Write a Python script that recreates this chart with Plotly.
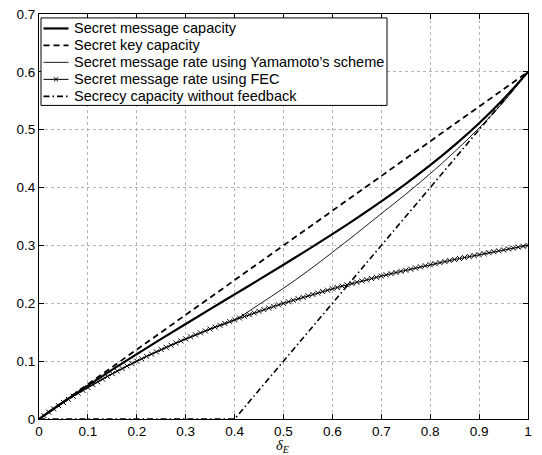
import plotly.graph_objects as go

# delta_E grid (coarse) for the smooth curves
delta_coarse = [0.00, 0.05, 0.10, 0.15, 0.20, 0.25, 0.30, 0.35, 0.40, 0.45, 0.50,
                0.55, 0.60, 0.65, 0.70, 0.75, 0.80, 0.85, 0.90, 0.95, 1.00]

secret_msg_capacity = [0.0, 0.0294, 0.0578, 0.0854, 0.1122, 0.1385, 0.1643, 0.1899, 0.2154,
                       0.2409, 0.2667, 0.2928, 0.3196, 0.3473, 0.3761, 0.4065, 0.4387,
                       0.4734, 0.5112, 0.5531, 0.6000]

key_delta = [0.0, 1.0]
secret_key_capacity = [0.0, 0.6]

yam_delta = [0.00, 0.05, 0.10, 0.15, 0.20, 0.25, 0.30, 0.35, 0.40, 0.45, 0.50,
             0.55, 0.60, 0.65, 0.70, 0.75, 0.80, 0.85, 0.90, 0.95, 1.00]
yamamoto_rate = [0.0, 0.0286, 0.0545, 0.0783, 0.1000, 0.1200, 0.1385, 0.1556, 0.1714,
                 0.1980, 0.2260, 0.2560, 0.2880, 0.3210, 0.3550, 0.3885, 0.4240,
                 0.4620, 0.5030, 0.5480, 0.6000]

fec_delta = [i / 100 for i in range(101)]
fec_rate = [0.0, 0.0059, 0.0118, 0.0175, 0.0231, 0.0286, 0.0340, 0.0393, 0.0444, 0.0495,
            0.0545, 0.0595, 0.0643, 0.0690, 0.0737, 0.0783, 0.0828, 0.0872, 0.0915, 0.0958,
            0.1000, 0.1041, 0.1082, 0.1122, 0.1161, 0.1200, 0.1238, 0.1276, 0.1313, 0.1349,
            0.1385, 0.1420, 0.1455, 0.1489, 0.1522, 0.1556, 0.1588, 0.1620, 0.1652, 0.1684,
            0.1714, 0.1745, 0.1775, 0.1804, 0.1833, 0.1862, 0.1890, 0.1918, 0.1946, 0.1973,
            0.2000, 0.2026, 0.2053, 0.2078, 0.2104, 0.2129, 0.2154, 0.2178, 0.2203, 0.2226,
            0.2250, 0.2273, 0.2296, 0.2319, 0.2341, 0.2364, 0.2386, 0.2407, 0.2429, 0.2450,
            0.2471, 0.2491, 0.2512, 0.2532, 0.2552, 0.2571, 0.2591, 0.2610, 0.2629, 0.2648,
            0.2667, 0.2685, 0.2703, 0.2721, 0.2739, 0.2757, 0.2774, 0.2791, 0.2809, 0.2825,
            0.2842, 0.2859, 0.2875, 0.2891, 0.2907, 0.2923, 0.2939, 0.2954, 0.2970, 0.2985,
            0.3000]

nofb_delta = [0.0, 0.4, 1.0]
secrecy_no_feedback = [0.0, 0.0, 0.6]

x_ticks = [0, 0.1, 0.2, 0.3, 0.4, 0.5, 0.6, 0.7, 0.8, 0.9, 1]
x_ticklabels = ["0", "0.1", "0.2", "0.3", "0.4", "0.5", "0.6", "0.7", "0.8", "0.9", "1"]
y_ticks = [0, 0.1, 0.2, 0.3, 0.4, 0.5, 0.6, 0.7]
y_ticklabels = ["0", "0.1", "0.2", "0.3", "0.4", "0.5", "0.6", "0.7"]

series_names = ["Secret message capacity",
                "Secret key capacity",
                "Secret message rate using Yamamoto’s scheme",
                "Secret message rate using FEC",
                "Secrecy capacity without feedback"]

styles = [dict(color="black", width=2.2),
          dict(color="black", width=1.8, dash="6px,4px"),
          dict(color="black", width=0.9),
          dict(color="black", width=1),
          dict(color="black", width=1.6, dash="6px,3px,1.5px,3px")]

fig = go.Figure()
fig.add_trace(go.Scatter(x=delta_coarse, y=secret_msg_capacity, mode="lines",
                         name=series_names[0], line=dict(styles[0], shape="spline")))
fig.add_trace(go.Scatter(x=key_delta, y=secret_key_capacity, mode="lines",
                         name=series_names[1], line=styles[1]))
fig.add_trace(go.Scatter(x=yam_delta, y=yamamoto_rate, mode="lines",
                         name=series_names[2], line=dict(styles[2], shape="spline")))
fig.add_trace(go.Scatter(x=fec_delta, y=fec_rate, mode="lines+markers",
                         name=series_names[3], line=styles[3],
                         marker=dict(symbol="x-thin", size=5, color="black",
                                     line=dict(color="black", width=1))))
fig.add_trace(go.Scatter(x=nofb_delta, y=secrecy_no_feedback, mode="lines",
                         name=series_names[4], line=styles[4]))

# ---- legend drawn as a boxed key (paper coordinates) ----
PW, PH = 489.0, 412.0          # plot-area size in px
def px_x(p):
    return (p - 39.0) / PW
def px_y(p):
    return (419.0 - p) / PH

shapes = [dict(type="rect", xref="paper", yref="paper",
               x0=px_x(41), x1=px_x(387), y0=px_y(100), y1=px_y(11),
               line=dict(color="black", width=1), fillcolor="white", layer="above")]
annotations = []
row_y = [21.7, 38.9, 56.2, 73.5, 90.8]
for name, st, ry in zip(series_names, styles, row_y):
    ln = dict(color=st["color"], width=st["width"])
    if "dash" in st:
        ln["dash"] = st["dash"]
    shapes.append(dict(type="line", xref="paper", yref="paper",
                       x0=px_x(43.5), x1=px_x(68.5), y0=px_y(ry), y1=px_y(ry),
                       line=ln, layer="above"))
    annotations.append(dict(text=name, xref="paper", yref="paper",
                            x=px_x(71.5), y=px_y(ry), xanchor="left", yanchor="middle",
                            showarrow=False,
                            font=dict(family="Liberation Sans, Arial, sans-serif",
                                      size=14.5, color="black")))
# FEC marker in key
cx, cy = 56.0, row_y[3]
for dx in (-2.2, 2.2):
    shapes.append(dict(type="line", xref="paper", yref="paper",
                       x0=px_x(cx - dx), x1=px_x(cx + dx), y0=px_y(cy - 2.2), y1=px_y(cy + 2.2),
                       line=dict(color="black", width=1), layer="above"))

annotations.append(dict(text="<i>δ</i><sub><i>E</i></sub>", xref="paper", yref="paper",
                        x=px_x(283), y=px_y(446.5), xanchor="center", yanchor="middle",
                        showarrow=False,
                        font=dict(family="Liberation Serif, serif", size=14.5, color="black")))

axis_common = dict(showline=True, linecolor="black", linewidth=1, mirror="ticks",
                   ticks="inside", ticklen=5, tickcolor="black",
                   showgrid=True, gridcolor="#b4b4b4", gridwidth=1, griddash="dot",
                   zeroline=False, ticklabeloverflow="allow",
                   tickfont=dict(family="Liberation Sans, Arial, sans-serif", size=13.5, color="black"))

fig.update_layout(
    width=542, height=455,
    margin=dict(l=39, r=14, t=7, b=36),
    paper_bgcolor="white", plot_bgcolor="white",
    showlegend=False,
    shapes=shapes,
    annotations=annotations,
    xaxis=dict(range=[0, 1], tickvals=x_ticks, ticktext=x_ticklabels, **axis_common),
    yaxis=dict(range=[0, 0.7], tickvals=y_ticks, ticktext=y_ticklabels, **axis_common),
)

fig.write_html("out.html", config={"displayModeBar": False},
               post_script="document.body.style.margin='0';")
